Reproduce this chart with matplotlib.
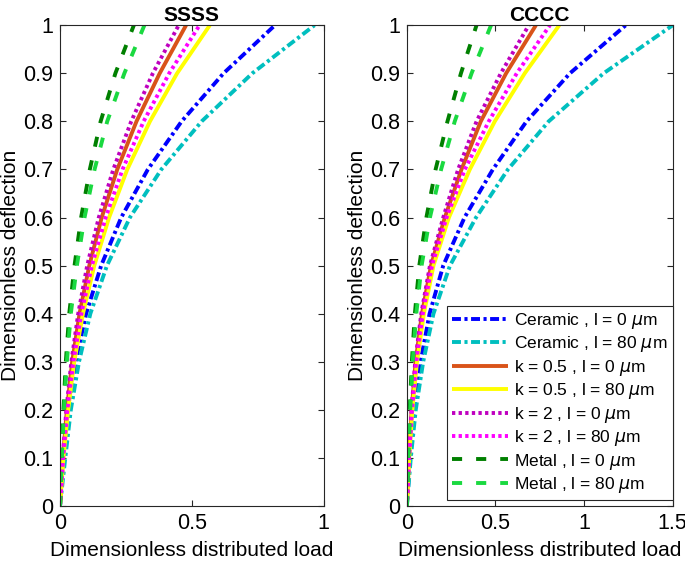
import matplotlib
matplotlib.use("Agg")
import matplotlib.pyplot as plt

plt.rcParams['font.family'] = ['Liberation Sans', 'DejaVu Sans']
plt.rcParams['mathtext.fontset'] = 'dejavusans'

# deflection grid (y values)
deflection = [0.0, 0.1, 0.2, 0.3, 0.4, 0.5, 0.6, 0.7, 0.8, 0.9, 1.0]

# SSSS: dimensionless load at each deflection
ss_ceramic_l0 = [0, 0.014, 0.032, 0.059, 0.099, 0.156, 0.232, 0.333, 0.461, 0.620, 0.815]
ss_ceramic_l80 = [0, 0.020, 0.041, 0.072, 0.115, 0.178, 0.265, 0.384, 0.537, 0.729, 0.965]
ss_k05_l0 = [0, 0.011, 0.026, 0.046, 0.074, 0.111, 0.158, 0.217, 0.290, 0.378, 0.478]
ss_k05_l80 = [0, 0.013, 0.031, 0.054, 0.087, 0.130, 0.186, 0.255, 0.341, 0.444, 0.568]
ss_k2_l0 = [0, 0.010, 0.024, 0.043, 0.069, 0.103, 0.147, 0.202, 0.270, 0.352, 0.450]
ss_k2_l80 = [0, 0.012, 0.028, 0.051, 0.081, 0.121, 0.173, 0.237, 0.317, 0.414, 0.529]
ss_metal_l0 = [0, 0.006, 0.013, 0.022, 0.035, 0.055, 0.080, 0.113, 0.154, 0.210, 0.280]
ss_metal_l80 = [0, 0.007, 0.015, 0.026, 0.041, 0.064, 0.093, 0.131, 0.179, 0.244, 0.320]

# CCCC
cc_ceramic_l0 = [0, 0.017, 0.040, 0.077, 0.128, 0.205, 0.325, 0.485, 0.675, 0.920, 1.235]
cc_ceramic_l80 = [0, 0.022, 0.050, 0.092, 0.150, 0.243, 0.390, 0.570, 0.800, 1.110, 1.500]
cc_k05_l0 = [0, 0.011, 0.027, 0.049, 0.085, 0.136, 0.214, 0.308, 0.417, 0.560, 0.728]
cc_k05_l80 = [0, 0.013, 0.031, 0.057, 0.096, 0.150, 0.237, 0.355, 0.496, 0.665, 0.860]
cc_k2_l0 = [0, 0.011, 0.026, 0.047, 0.081, 0.130, 0.205, 0.289, 0.393, 0.530, 0.688]
cc_k2_l80 = [0, 0.012, 0.029, 0.053, 0.090, 0.142, 0.224, 0.327, 0.462, 0.620, 0.807]
cc_metal_l0 = [0, 0.007, 0.016, 0.028, 0.045, 0.070, 0.110, 0.162, 0.229, 0.305, 0.393]
cc_metal_l80 = [0, 0.008, 0.019, 0.033, 0.053, 0.083, 0.130, 0.193, 0.270, 0.365, 0.475]

labels = ["Ceramic , l = 0 $\\mu$m", "Ceramic , l = 80 $\\mu$m",
          "k = 0.5 , l = 0 $\\mu$m", "k = 0.5 , l = 80 $\\mu$m",
          "k = 2 , l = 0 $\\mu$m", "k = 2 , l = 80 $\\mu$m",
          "Metal , l = 0 $\\mu$m", "Metal , l = 80 $\\mu$m"]

titles = ["SSSS", "CCCC"]
yticks = [0, 0.1, 0.2, 0.3, 0.4, 0.5, 0.6, 0.7, 0.8, 0.9, 1]
ytick_labels = ["0", "0.1", "0.2", "0.3", "0.4", "0.5", "0.6", "0.7", "0.8", "0.9", "1"]
xticks_ss = [0, 0.5, 1]
xtick_labels_ss = ["0", "0.5", "1"]
xticks_cc = [0, 0.5, 1, 1.5]
xtick_labels_cc = ["0", "0.5", "1", "1.5"]

colors = [(0, 0, 1), (0, 0.75, 0.75), (0.85, 0.325, 0.098), (1, 1, 0),
          (0.75, 0, 0.75), (1, 0, 1), (0, 0.5, 0), (0.1, 0.85, 0.25)]
dashdot = (2.3, 0.9, 0.8, 0.9)
dotted = (0.85, 0.85)
dashed = (2.6, 3.6)
styles = [dashdot, dashdot, None, None, dotted, dotted, dashed, dashed]

fig = plt.figure(figsize=(6.85, 5.61), dpi=100)
ax1 = fig.add_axes([0.0876, 0.098, 0.385, 0.857])
ax2 = fig.add_axes([0.594, 0.098, 0.388, 0.857])

data_sets = [
    [ss_ceramic_l0, ss_ceramic_l80, ss_k05_l0, ss_k05_l80, ss_k2_l0, ss_k2_l80, ss_metal_l0, ss_metal_l80],
    [cc_ceramic_l0, cc_ceramic_l80, cc_k05_l0, cc_k05_l80, cc_k2_l0, cc_k2_l80, cc_metal_l0, cc_metal_l80],
]
axc = (0.15, 0.15, 0.15)
for ax, series, title, xt, xtl, xmax in [
        (ax1, data_sets[0], titles[0], xticks_ss, xtick_labels_ss, 1.0),
        (ax2, data_sets[1], titles[1], xticks_cc, xtick_labels_cc, 1.5)]:
    for s, c, st, lab in zip(series, colors, styles, labels):
        line, = ax.plot(s, deflection, color=c, lw=2.8, label=lab,
                        solid_capstyle='butt', dash_capstyle='butt')
        if st is not None:
            line.set_dashes(st)
    ax.set_xlim(0, xmax)
    ax.set_ylim(0, 1)
    ax.set_xticks(xt)
    ax.set_xticklabels(xtl)
    ax.set_yticks(yticks)
    ax.set_yticklabels(ytick_labels)
    ax.tick_params(direction='in', top=True, right=True, length=4, width=0.8,
                   labelsize=15.5, colors=axc, labelcolor='black', pad=5)
    for sp in ax.spines.values():
        sp.set_color(axc)
        sp.set_linewidth(0.8)
    ax.set_title(title, fontsize=15, fontweight='bold', pad=3)
    ax.set_xlabel("Dimensionless distributed load", fontsize=15, labelpad=5)
    ax.set_ylabel("Dimensionless deflection", fontsize=15, labelpad=2)

leg = ax2.legend(loc='lower right', bbox_to_anchor=(1.0, 0.012), fontsize=12.5,
                 handlelength=3.2, handletextpad=0.35, labelspacing=0.2,
                 borderpad=0.3, borderaxespad=0.0, fancybox=False, framealpha=1,
                 edgecolor=axc)
leg.get_frame().set_linewidth(0.8)

fig.savefig("out.png", dpi=100)
